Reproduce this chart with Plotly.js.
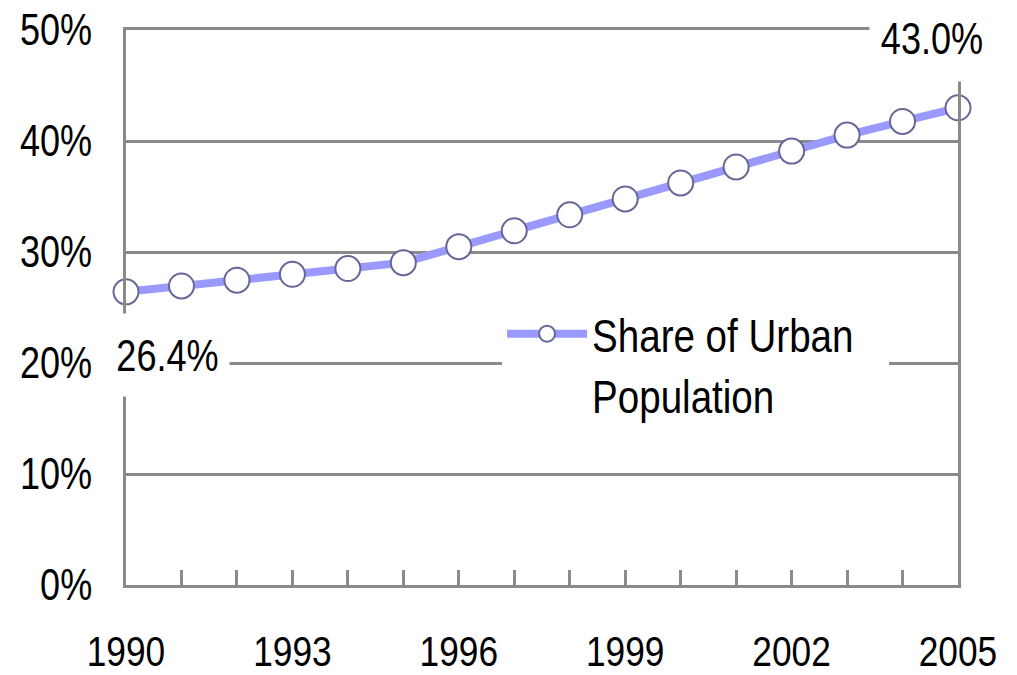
<!DOCTYPE html>
<html>
<head>
<meta charset="utf-8">
<script src="https://cdn.plot.ly/plotly-3.0.1.min.js"></script>
<style>
  html, body { margin: 0; padding: 0; background: #fff; }
  #graph { width: 1017px; height: 675px; }
</style>
</head>
<body>
<div id="graph"></div>
<script>
// share of urban population, in percent
var years = [1990, 1991, 1992, 1993, 1994, 1995, 1996, 1997, 1998, 1999, 2000, 2001, 2002, 2003, 2004, 2005];
var urbanShare = [26.41, 26.94, 27.46, 27.99, 28.51, 29.04, 30.48, 31.91, 33.35, 34.78, 36.22, 37.66, 39.09, 40.53, 41.76, 42.99];
var labelYears = [1990, 1993, 1996, 1999, 2002, 2005];
var seriesName = 'Share of Urban<br>Population';
var firstLabel = '26.4%';
var lastLabel = '43.0%';

var sans = '"Liberation Sans", Arial, sans-serif';
var gray = '#8a8a8a';
var squeeze = 0.82; // the original uses a narrow face

var trace = {
  x: years,
  y: urbanShare,
  type: 'scatter',
  mode: 'lines+markers',
  name: seriesName,
  cliponaxis: false,
  line: { color: '#9999ff', width: 8 },
  marker: { symbol: 'circle', size: 25, color: '#ffffff', line: { color: '#666699', width: 2 } },
  hoverinfo: 'skip'
};

var layout = {
  width: 1017,
  height: 675,
  margin: { l: 126, r: 59, t: 30, b: 90 },
  paper_bgcolor: '#ffffff',
  plot_bgcolor: '#ffffff',
  font: { family: sans, size: 44, color: '#000000' },
  showlegend: true,
  legend: {
    x: 0.452, y: 0.397, xanchor: 'left', yanchor: 'middle',
    bgcolor: '#ffffff',
    font: { family: sans, size: 47, color: '#000000' },
    valign: 'top',
    itemwidth: 80
  },
  xaxis: {
    range: [1990, 2005],
    tickmode: 'array',
    tickvals: labelYears,
    ticktext: labelYears.map(String),
    ticks: 'inside', ticklen: 15, tickwidth: 3, tickcolor: gray,
    minor: { dtick: 1, tick0: 1990, ticks: 'inside', ticklen: 15, tickwidth: 3, tickcolor: gray, showgrid: false },
    showgrid: false,
    showline: true, linecolor: gray, linewidth: 3, mirror: true,
    zeroline: false,
    ticklabelstandoff: 26,
    tickfont: { family: sans, size: 43 }
  },
  yaxis: {
    range: [0, 50],
    dtick: 10,
    ticksuffix: '%',
    ticks: '',
    showgrid: true, gridcolor: gray, gridwidth: 3,
    showline: true, linecolor: gray, linewidth: 3, mirror: true,
    zeroline: false,
    ticklabelstandoff: 22,
    tickfont: { family: sans, size: 44 }
  },
  annotations: [
    {
      x: years[0], y: urbanShare[0], xref: 'x', yref: 'y',
      text: firstLabel, showarrow: false,
      xshift: 41, yshift: -63,
      bgcolor: '#ffffff', width: 121, height: 80,
      font: { family: sans, size: 44, color: '#000000' }
    },
    {
      x: years[years.length - 1], y: urbanShare[urbanShare.length - 1], xref: 'x', yref: 'y',
      text: lastLabel, showarrow: false,
      xshift: -26, yshift: 70,
      bgcolor: '#ffffff', width: 122, height: 84,
      font: { family: sans, size: 44, color: '#000000' }
    }
  ]
};

Plotly.newPlot('graph', [trace], layout, { staticPlot: true, displayModeBar: false }).then(function (gd) {
  // condense every text run to mimic the narrow typeface
  var legendSaved = 0;
  gd.querySelectorAll('svg text').forEach(function (t) {
    var lines = t.querySelectorAll('tspan.line');
    var parts = lines.length ? Array.prototype.slice.call(lines) : [t];
    parts.forEach(function (p) {
      var w = p.getComputedTextLength();
      if (w > 0) {
        p.setAttribute('textLength', (w * squeeze).toFixed(1));
        p.setAttribute('lengthAdjust', 'spacingAndGlyphs');
        if (t.classList.contains('legendtext')) legendSaved = Math.max(legendSaved, w * (1 - squeeze));
      }
    });
  });
  // shrink the legend box part way, keeping some room on the right like the original
  var bg = gd.querySelector('.legend rect.bg');
  if (bg && legendSaved) {
    bg.setAttribute('width', (parseFloat(bg.getAttribute('width')) - legendSaved * 0.47).toFixed(1));
  }
});
</script>
</body>
</html>
